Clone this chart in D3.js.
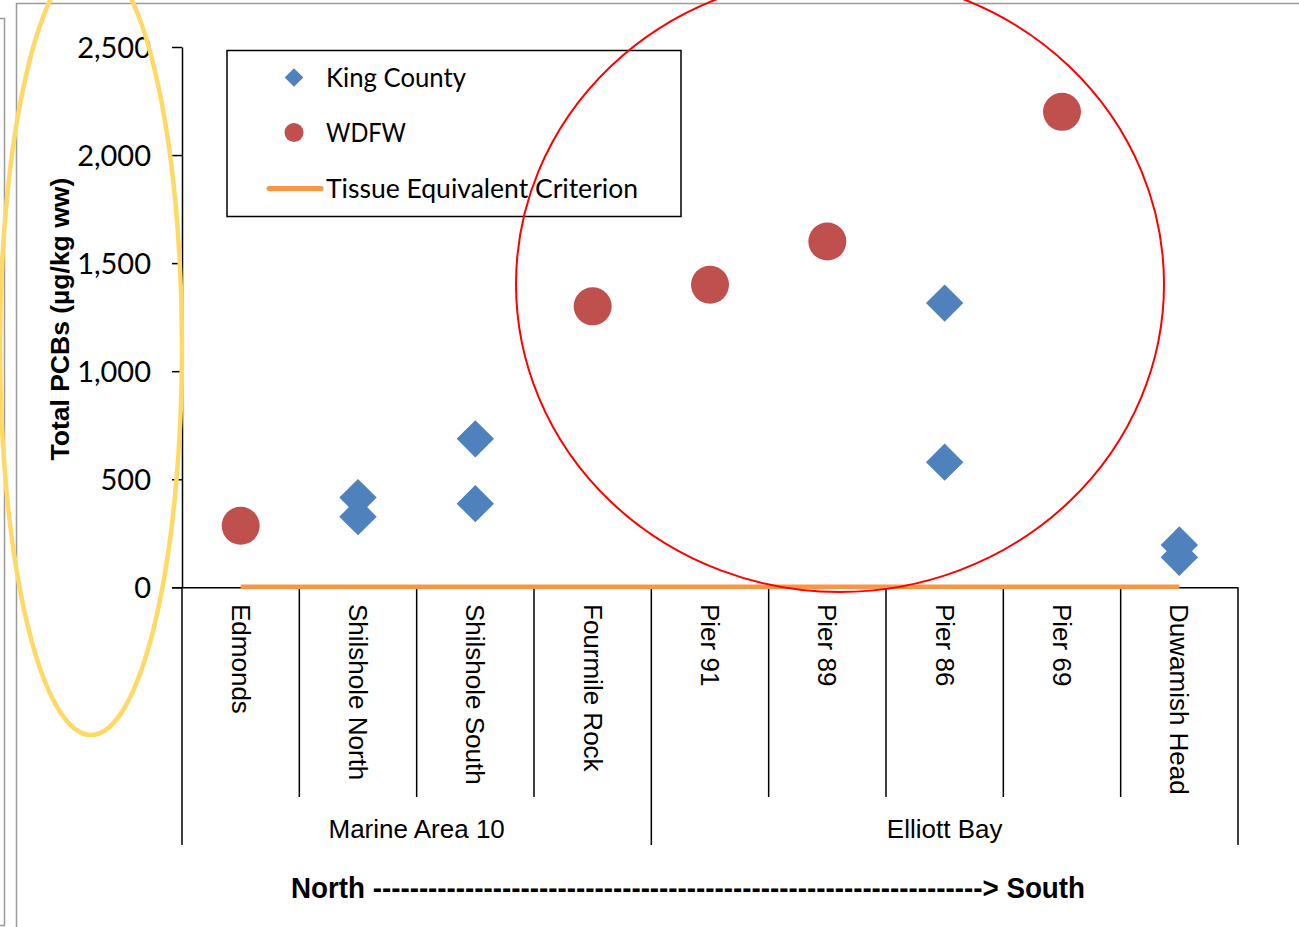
<!DOCTYPE html>
<html>
<head>
<meta charset="utf-8">
<script src="https://cdn.jsdelivr.net/npm/d3@7"></script>
<style>
  html, body { margin: 0; padding: 0; background: #ffffff; }
  svg { display: block; }
</style>
</head>
<body>
<svg id="chart" width="1299" height="927"></svg>
<script>
// Sampling sites, north to south
const sites = ["Edmonds", "Shilshole North", "Shilshole South", "Fourmile Rock",
               "Pier 91", "Pier 89", "Pier 86", "Pier 69", "Duwamish Head"];

// Regional groupings of the sites (first and last site of each)
const groupNames = ["Marine Area 10", "Elliott Bay"];
const groupFirst = ["Edmonds", "Pier 91"];
const groupLast  = ["Fourmile Rock", "Duwamish Head"];

// King County results (µg/kg ww)
const kcSites  = ["Shilshole North", "Shilshole North", "Shilshole South", "Shilshole South",
                  "Pier 86", "Pier 86", "Duwamish Head", "Duwamish Head"];
const kcValues = [415, 327, 687, 387, 1315, 579, 196, 139];

// WDFW results (µg/kg ww)
const wdfwSites  = ["Edmonds", "Fourmile Rock", "Pier 91", "Pier 89", "Pier 69"];
const wdfwValues = [285, 1300, 1400, 1600, 2200];

// Tissue equivalent criterion (µg/kg ww), same at every site
const criterionValues = [3, 3, 3, 3, 3, 3, 3, 3, 3];

// Y axis ticks
const yTicks = [0, 500, 1000, 1500, 2000, 2500];

const seriesNames = ["King County", "WDFW", "Tissue Equivalent Criterion"];
const colors = { kc: "#4F81BD", wdfw: "#C0504D", crit: "#F79646" };

const svg = d3.select("#chart");

// Outer frames
const frame = svg.append("g").attr("stroke", "#9a9a9a").attr("stroke-width", 1.5).attr("fill", "none");
frame.append("path").attr("d", "M0,18.5 H4.5 V925.5 H0");
frame.append("path").attr("d", "M1299,3.5 H16.5 V927");

const plot = { left: 182, right: 1238, top: 47, bottom: 587.3 };

const x = d3.scaleBand().domain(sites).range([plot.left, plot.right]).padding(0);
const y = d3.scaleLinear().domain([0, 2500]).range([plot.bottom, plot.top]);
const cx = s => x(s) + x.bandwidth() / 2;

// Y axis
const yAxis = svg.append("g")
  .attr("transform", `translate(${plot.left},0)`)
  .call(d3.axisLeft(y).tickValues(yTicks).tickFormat(d3.format(",")).tickSize(10).tickSizeOuter(0).tickPadding(21));
yAxis.select(".domain").attr("stroke", "#000").attr("stroke-width", 1.5);
yAxis.selectAll(".tick line").attr("stroke", "#000").attr("stroke-width", 1.5);
yAxis.selectAll(".tick text")
  .attr("fill", "#000")
  .style("font-family", "Lato, 'Open Sans', sans-serif")
  .style("font-size", "29px")
  .attr("dy", "0.36em");

// Y axis title
svg.append("text")
  .attr("transform", `translate(60,${(plot.top + plot.bottom) / 2 + 2}) rotate(-90)`)
  .attr("text-anchor", "middle")
  .attr("dominant-baseline", "central")
  .style("font-family", "'Liberation Sans', Arial, sans-serif")
  .style("font-weight", "bold")
  .style("font-size", "26.5px")
  .text("Total PCBs (µg/kg ww)");

// X axis baseline
const axisG = svg.append("g").attr("stroke", "#000").attr("stroke-width", 1.5);
axisG.append("line")
  .attr("x1", plot.left - 10).attr("x2", plot.right)
  .attr("y1", y(0) + 0.5).attr("y2", y(0) + 0.5);

// Category separators (short) and group separators (long)
const boundaries = sites.map(s => x(s)).concat([plot.right]);
const groupEdges = new Set([x(groupFirst[0]), x(groupFirst[1]), plot.right]);
axisG.selectAll("line.sep")
  .data(boundaries)
  .join("line")
  .attr("class", "sep")
  .attr("x1", d => d).attr("x2", d => d)
  .attr("y1", y(0))
  .attr("y2", d => groupEdges.has(d) ? 845 : 797);

// Category labels, rotated
svg.selectAll("text.cat")
  .data(sites)
  .join("text")
  .attr("class", "cat")
  .attr("transform", d => `translate(${cx(d)},604) rotate(90)`)
  .attr("text-anchor", "start")
  .attr("dominant-baseline", "central")
  .style("font-family", "'Liberation Sans', Arial, sans-serif")
  .style("font-size", "26px")
  .attr("fill", "#000")
  .text(d => d);

// Group labels
svg.selectAll("text.grp")
  .data(groupNames)
  .join("text")
  .attr("class", "grp")
  .attr("x", (d, i) => (x(groupFirst[i]) + x(groupLast[i]) + x.bandwidth()) / 2)
  .attr("y", 838)
  .attr("text-anchor", "middle")
  .style("font-family", "'Liberation Sans', Arial, sans-serif")
  .style("font-size", "26px")
  .attr("fill", "#000")
  .text(d => d);

// Direction note
svg.append("text")
  .attr("x", 291)
  .attr("y", 898)
  .attr("textLength", 794)
  .attr("lengthAdjust", "spacingAndGlyphs")
  .style("font-family", "'Liberation Sans', Arial, sans-serif")
  .style("font-weight", "bold")
  .style("font-size", "29px")
  .attr("fill", "#000")
  .text("North " + "-".repeat(66) + "> South");

// Criterion line
const critLine = d3.line().x(d => cx(d.site)).y(d => y(d.value));
svg.append("path")
  .datum(sites.map((s, i) => ({ site: s, value: criterionValues[i] })))
  .attr("d", critLine)
  .attr("fill", "none")
  .attr("stroke", colors.crit)
  .attr("stroke-width", 4.5);

// King County diamonds
const diamond = r => `M0,${-r}L${r},0L0,${r}L${-r},0Z`;
svg.selectAll("path.kc")
  .data(kcValues.map((v, i) => ({ site: kcSites[i], value: v })))
  .join("path")
  .attr("class", "kc")
  .attr("transform", d => `translate(${cx(d.site)},${y(d.value)})`)
  .attr("d", diamond(18.7))
  .attr("fill", colors.kc);

// WDFW circles
svg.selectAll("circle.wdfw")
  .data(wdfwValues.map((v, i) => ({ site: wdfwSites[i], value: v })))
  .join("circle")
  .attr("class", "wdfw")
  .attr("cx", d => cx(d.site))
  .attr("cy", d => y(d.value))
  .attr("r", 19)
  .attr("fill", colors.wdfw);

// Legend
const legend = svg.append("g");
legend.append("rect")
  .attr("x", 227).attr("y", 50.5).attr("width", 454).attr("height", 166)
  .attr("fill", "#fff").attr("stroke", "#000").attr("stroke-width", 1.5);
const legY = [77.5, 132.5, 188.5];
const legW = [140, 80, 312];
legend.append("path").attr("transform", `translate(294,${legY[0]})`).attr("d", diamond(9.3)).attr("fill", colors.kc);
legend.append("circle").attr("cx", 294).attr("cy", legY[1]).attr("r", 9.5).attr("fill", colors.wdfw);
legend.append("line").attr("x1", 269).attr("x2", 321).attr("y1", legY[2]).attr("y2", legY[2])
  .attr("stroke", colors.crit).attr("stroke-width", 5).attr("stroke-linecap", "round");
legend.selectAll("text")
  .data(seriesNames)
  .join("text")
  .attr("x", 326)
  .attr("y", (d, i) => legY[i])
  .attr("dy", "0.36em")
  .attr("textLength", (d, i) => legW[i])
  .attr("lengthAdjust", "spacingAndGlyphs")
  .style("font-family", "Lato, 'Open Sans', sans-serif")
  .style("font-size", "27.5px")
  .attr("fill", "#000")
  .text(d => d);

// Highlight rings
svg.append("ellipse")
  .attr("cx", 91).attr("cy", 347).attr("rx", 91).attr("ry", 388)
  .attr("fill", "none").attr("stroke", "#FFD966").attr("stroke-width", 4.5);
svg.append("ellipse")
  .attr("cx", 840).attr("cy", 284).attr("rx", 324).attr("ry", 308)
  .attr("fill", "none").attr("stroke", "#FF0000").attr("stroke-width", 2);
</script>
</body>
</html>
